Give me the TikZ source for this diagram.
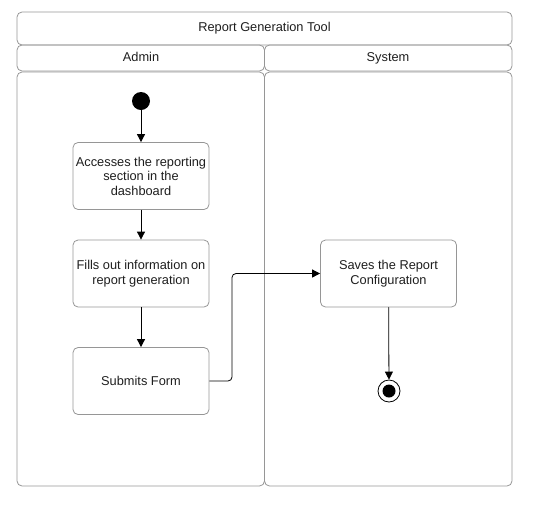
\documentclass[tikz,border=0pt]{standalone}
\usepackage{fontspec}
\setmainfont{Liberation Sans}
\usetikzlibrary{arrows.meta}
\definecolor{edge}{RGB}{150,150,150}
\definecolor{ink}{RGB}{30,30,30}
\tikzset{
  lane/.style={draw=edge, line width=0.8pt, rounded corners=5pt},
  act/.style={draw=edge, line width=0.8pt, rounded corners=5pt, minimum width=136pt, minimum height=67pt, align=center, inner sep=1pt, font=\fontsize{12.8}{14.5}\selectfont, text=ink},
  flow/.style={draw=black, line width=0.8pt, -{Triangle[length=8pt,width=8pt]}},
  lbl/.style={font=\fontsize{12.8}{14.5}\selectfont, text=ink, text height=9.3pt, text depth=2.7pt, inner sep=0pt}
}
\begin{document}
\begin{tikzpicture}[x=1pt,y=-1pt]
\useasboundingbox (0,0) rectangle (546,515);
% pool
\draw[lane] (17,12) rectangle (512,45);
\node[lbl] (title) at (264.5,28.5) {Report Generation Tool};
\draw[lane] (17,45) rectangle (264.5,71);
\draw[lane] (264.5,45) rectangle (512,71);
\node[lbl] (adminh) at (141,58) {Admin};
\node[lbl] (systemh) at (388,58) {System};
\draw[lane] (17,72) rectangle (264.5,486);
\draw[lane] (264.5,72) rectangle (512,486);
% nodes
\node[circle, fill=black, minimum size=18pt, inner sep=0pt] (start) at (141,101) {};
\node[act] (a1) at (141,176) {Accesses the reporting\\section in the\\dashboard};
\node[act] (a2) at (141,273.5) {Fills out information on\\report generation};
\node[act] (a3) at (141,381) {Submits Form};
\node[act] (s1) at (388.5,273.5) {Saves the Report\\Configuration};
\node[circle, draw=black, line width=0.8pt, minimum size=22pt, inner sep=0pt] (end) at (389,391) {};
\node[circle, fill=black, minimum size=13pt, inner sep=0pt] (endin) at (389,391) {};
\coordinate (k) at (232,381);
% edges
\draw[flow] (start) -- (a1);
\draw[flow] (a1) -- (a2);
\draw[flow] (a2) -- (a3);
\draw[flow, rounded corners=4pt] (a3.east) -- (k) |- (s1.west);
\draw[flow] (s1) -- (end);
\end{tikzpicture}
\end{document}
